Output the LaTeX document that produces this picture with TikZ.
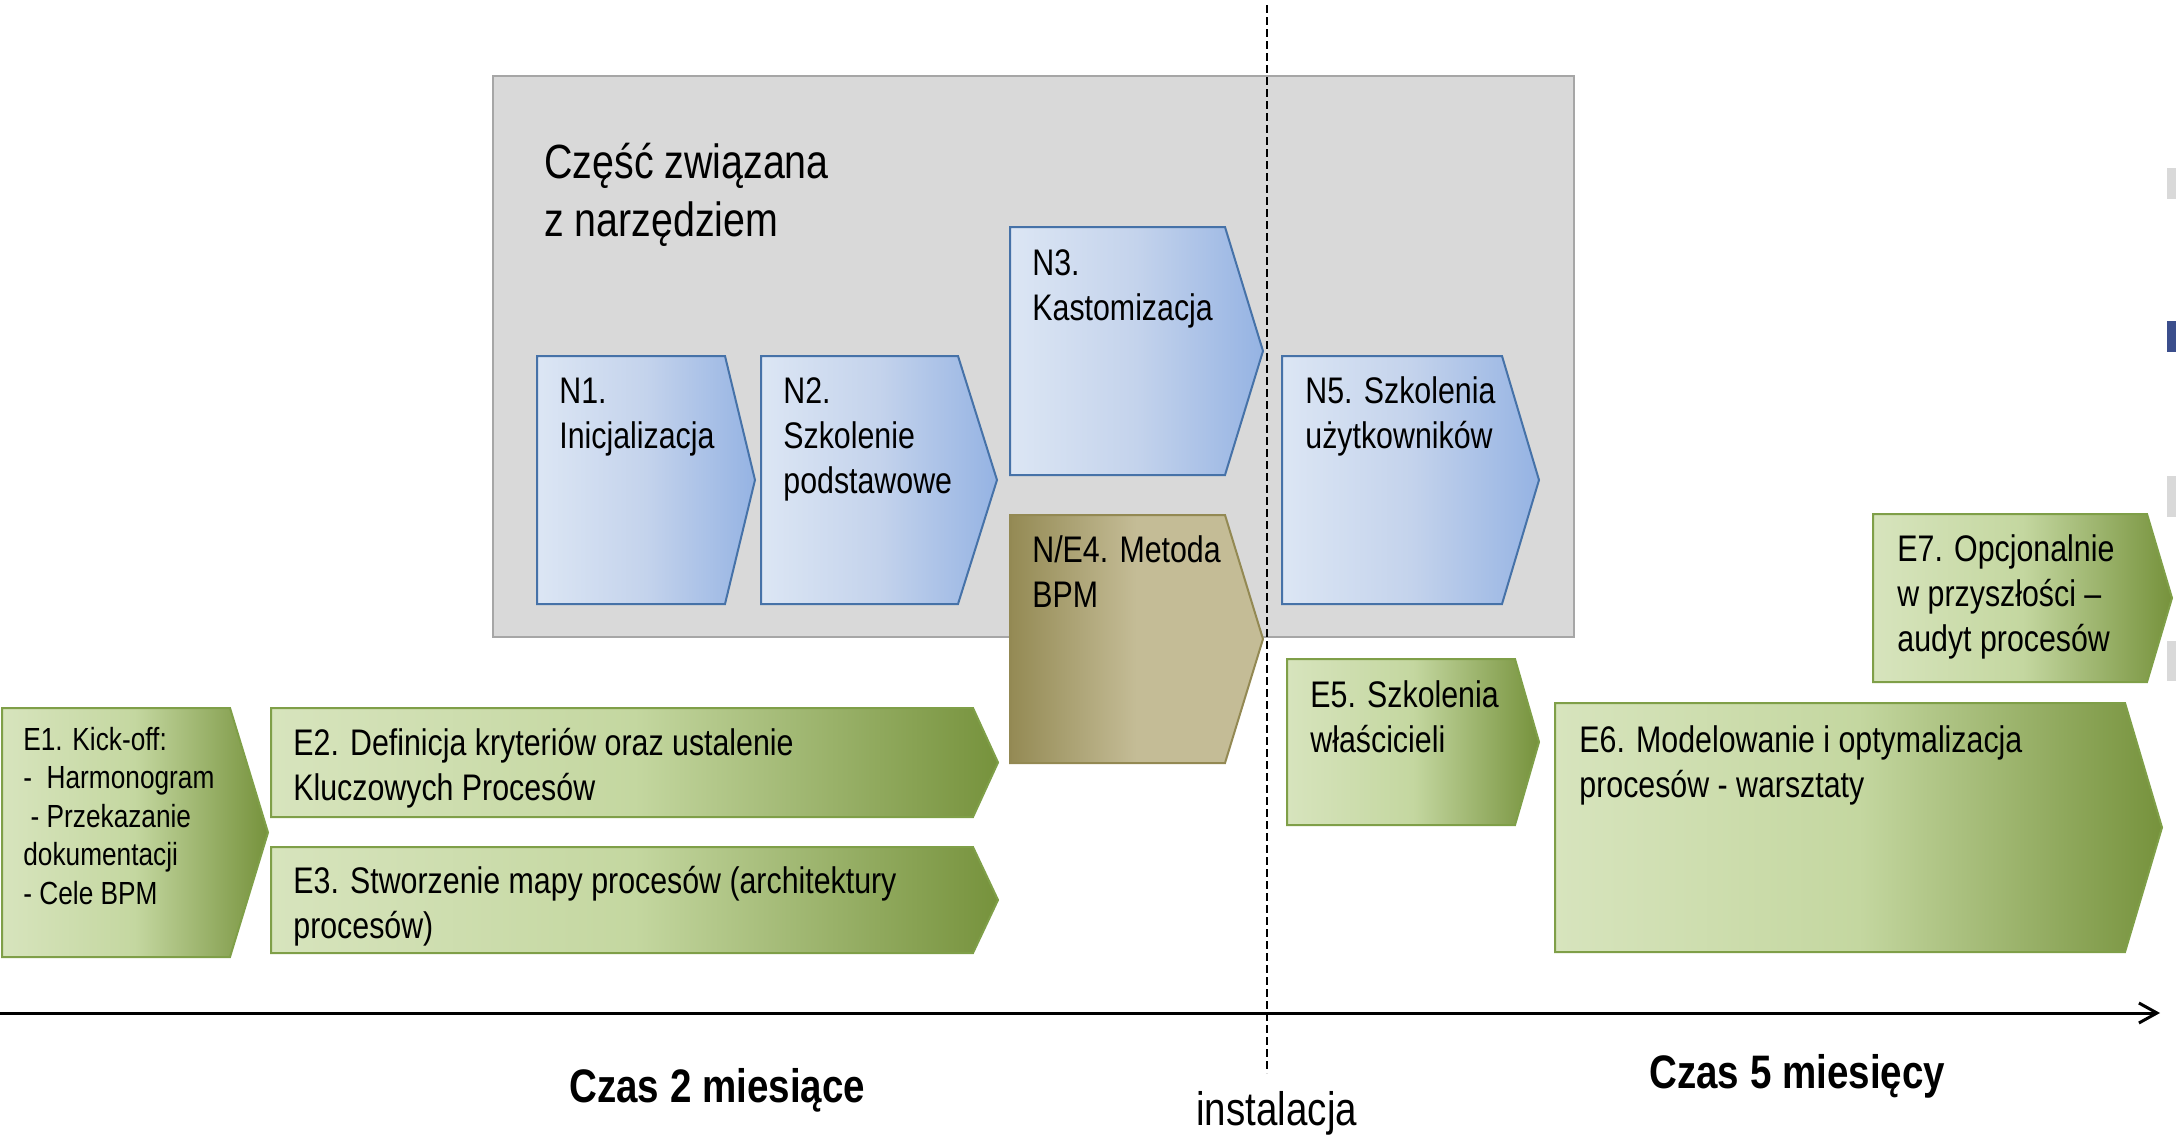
\documentclass[tikz,border=0pt]{standalone}
\usepackage{fontspec}
\setmainfont[FakeStretch=0.82]{Liberation Sans}
\usetikzlibrary{arrows.meta}
\definecolor{toolgray}{HTML}{D9D9D9}
\definecolor{toolframe}{HTML}{A6A6A6}
\definecolor{nlight}{HTML}{DCE6F4}
\definecolor{nmid}{HTML}{C4D3EC}
\definecolor{ndark}{HTML}{95B3E3}
\definecolor{nline}{HTML}{4672A8}
\definecolor{elight}{HTML}{D7E4BD}
\definecolor{emid}{HTML}{C4D7A0}
\definecolor{edark}{HTML}{76923C}
\definecolor{eline}{HTML}{7F9F48}
\definecolor{olight}{HTML}{C4BC96}
\definecolor{odark}{HTML}{948A54}
\definecolor{oline}{HTML}{938953}
\definecolor{markblue}{HTML}{3B4E8C}
% pentagon: style, left, right, top, bottom, tip
\newcommand{\pent}[6]{\draw[#1] (#2,#4) -- (#3,#4) -- (#6,{(#4+#5)/2}) -- (#3,#5) -- (#2,#5) -- cycle;}
\tikzset{
  nbox/.style={draw=nline, line width=1pt, left color=nlight, right color=ndark, middle color=nmid},
  ebox/.style={draw=eline, line width=1pt, left color=elight, right color=edark, middle color=emid},
  obox/.style={draw=oline, line width=1pt, left color=odark, right color=olight, middle color=olight},
  txt/.style={anchor=base west, align=left, inner sep=0pt, font=\fontsize{18.5}{22.5}\selectfont},
  bigtxt/.style={txt, font=\fontsize{24}{29}\selectfont},
}
\begin{document}
\begin{tikzpicture}[x=0.5pt,y=-0.5pt]
\useasboundingbox (0,0) rectangle (2176,1135);
% czesc narzedziowa
\draw[fill=toolgray, draw=toolframe, line width=1pt] (493,76) rectangle (1574,637);
\node[bigtxt] (tool) at (544,236) {Część związana\\z narzędziem};
% linia instalacji i os czasu
\coordinate (insttop) at (1267,5);
\coordinate (instbot) at (1267,1073);
\draw[line width=1.2pt, dash pattern=on 4pt off 2pt] (insttop) -- (instbot);
\coordinate (start) at (0,1013);
\coordinate (end) at (2160,1013);
\draw[line width=1.5pt, -{Straight Barb[length=9pt,width=10pt]}] (start) -- (end);
% etapy N
\foreach \xl/\xr/\xt/\yt/\yb in {537/725/755/356/604, 761/958/997/356/604,
    1010/1225/1263/227/475, 1282/1502/1539/356/604}
  {\pent{nbox}{\xl}{\xr}{\yt}{\yb}{\xt}}
\pent{obox}{1010}{1225}{515}{763}{1263}
% etapy E
\foreach \xl/\xr/\xt/\yt/\yb in {2/230/268/708/957, 271/973/998/708/817,
    271/973/998/847/953, 1287/1515/1539/659/825, 1555/2125/2162/703/952,
    1873/2147/2172/514/682}
  {\pent{ebox}{\xl}{\xr}{\yt}{\yb}{\xt}}
% teksty (punkt = linia bazowa ostatniego wiersza)
\node[txt] (n1) at (559,448) {N1.\\Inicjalizacja};
\node[txt] (n2) at (783,493) {N2.\\Szkolenie\\podstawowe};
\node[txt] (n3) at (1032,320) {N3.\\Kastomizacja};
\node[txt] (n4) at (1032,607) {N/E4. Metoda\\BPM};
\node[txt] (n5) at (1305,448) {N5. Szkolenia\\użytkowników};
\node[txt, font=\fontsize{16}{19.25}\selectfont] (e1) at (23,904)
  {E1. Kick-off:\\-\ \ Harmonogram\\\ - Przekazanie\\dokumentacji\\- Cele BPM};
\node[txt] (e2) at (293,800) {E2. Definicja kryteriów oraz ustalenie\\Kluczowych Procesów};
\node[txt] (e3) at (293,938) {E3. Stworzenie mapy procesów (architektury\\procesów)};
\node[txt] (e5) at (1310,752) {E5. Szkolenia\\właścicieli};
\node[txt] (e6) at (1579,797) {E6. Modelowanie i optymalizacja\\procesów - warsztaty};
\node[txt] (e7) at (1897,651) {E7. Opcjonalnie\\w przyszłości –\\audyt procesów};
% opisy osi
\node[bigtxt, font=\fontsize{23.5}{28}\selectfont\bfseries] (czas2) at (569,1102) {Czas 2 miesiące};
\node[bigtxt, font=\fontsize{23.5}{28}\selectfont\bfseries] (czas5) at (1649,1088) {Czas 5 miesięcy};
\node[bigtxt, font=\fontsize{23.5}{28}\selectfont] (inst) at (1196,1125) {instalacja};
% znaczniki przy krawedzi
\foreach \ya/\yb/\c in {168/199/toolgray, 321/352/markblue, 476/517/toolgray, 641/681/toolgray}
  {\fill[\c] (2167,\ya) rectangle (2176,\yb);}
\end{tikzpicture}
\end{document}
